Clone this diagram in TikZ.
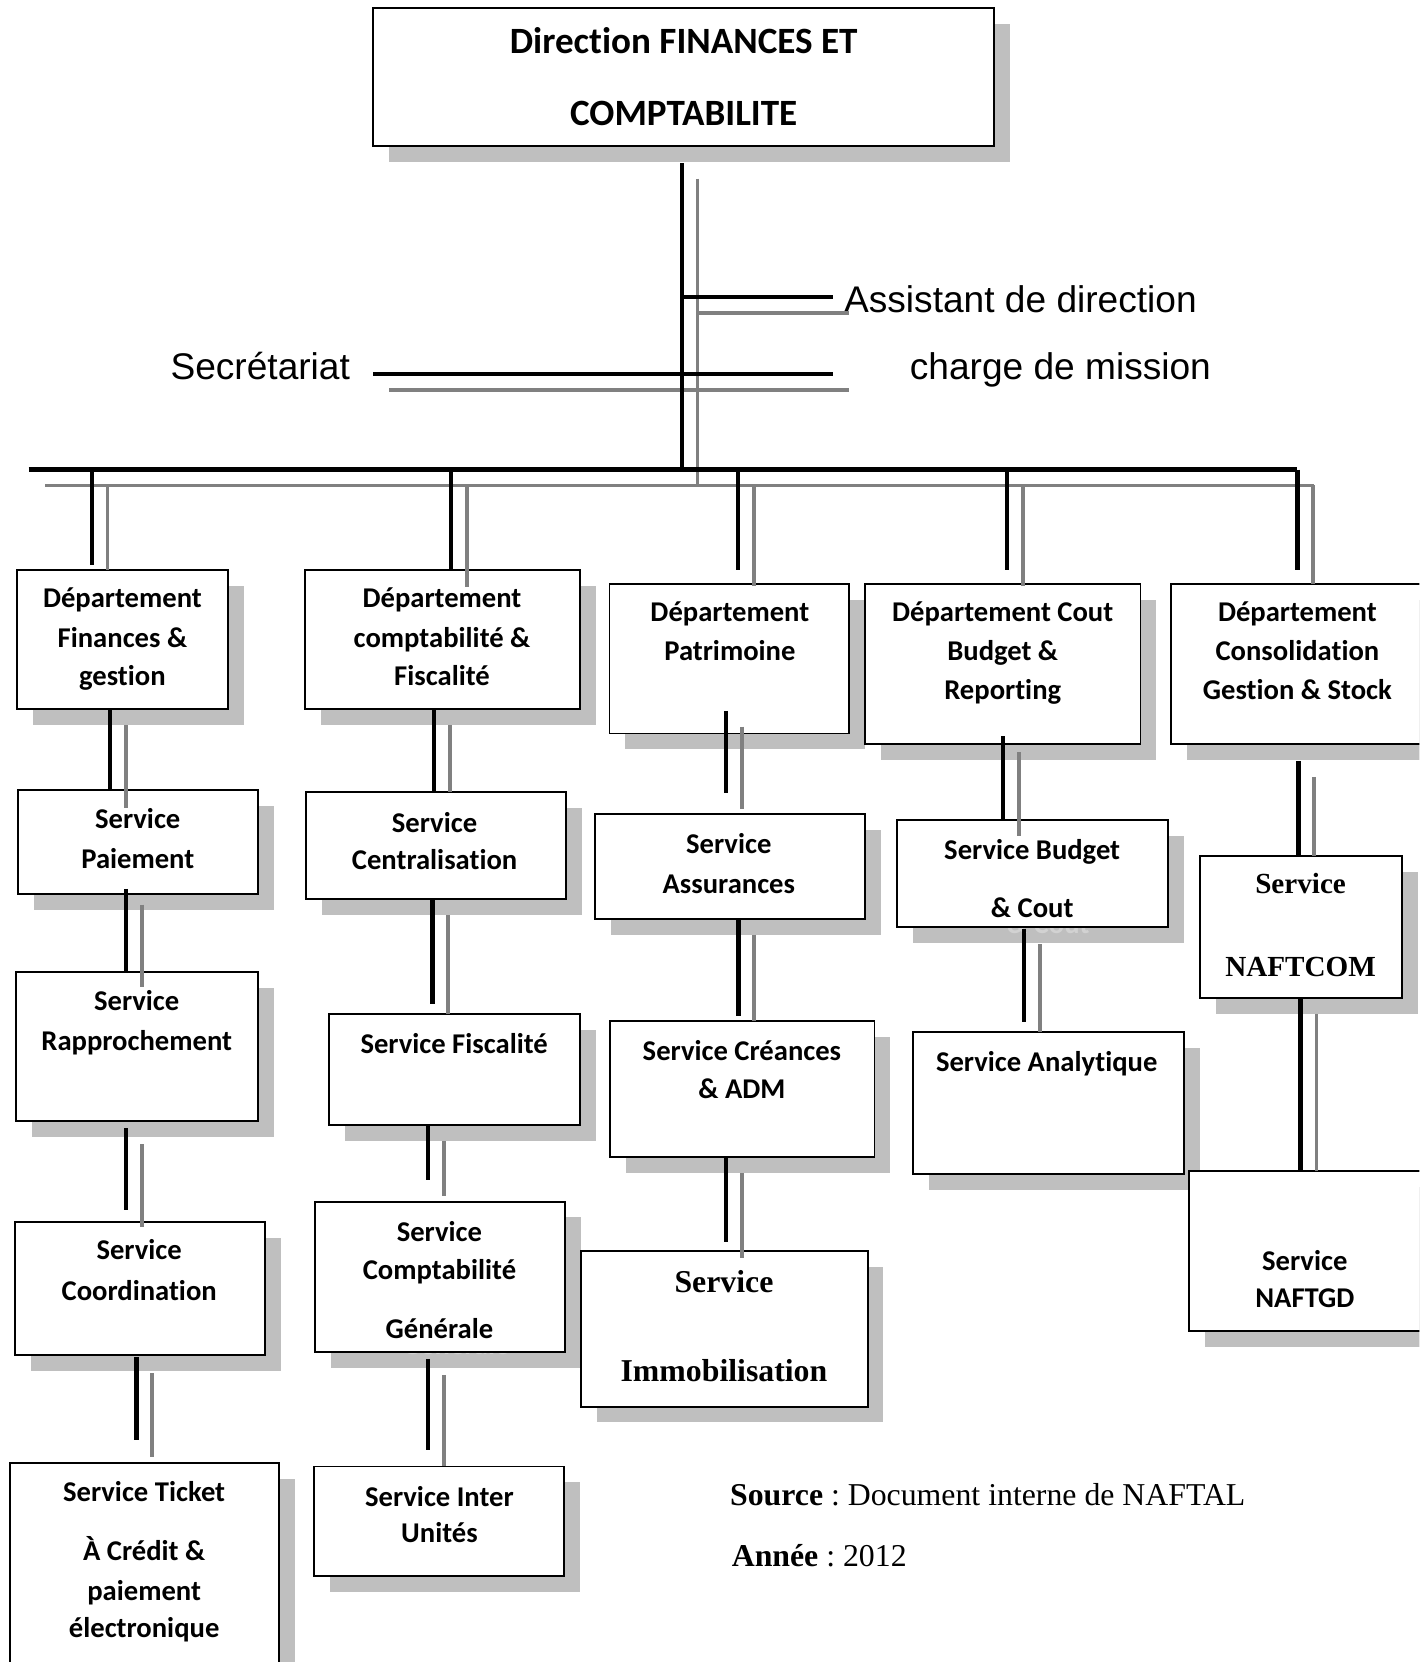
\documentclass[tikz,border=0pt]{standalone}
\usepackage{fontspec}
\setmainfont{Carlito}[Ligatures=NoCommon]
\newfontfamily\arifont{Liberation Sans}
\newfontfamily\timfont{Liberation Serif}
\usetikzlibrary{fit}
\frenchspacing
\tikzset{
  box/.style={draw=black, line width=0.9pt, fill=white, inner sep=0pt},
  shd/.style={fill=gray!50},
  blk/.style={line width=2pt, draw=black},
  gry/.style={line width=1.8pt, draw=gray},
  ct/.style={font=\fontsize{13.5}{16}\selectfont\bfseries, anchor=base, inner sep=0pt},
  ttl/.style={font=\fontsize{17.5}{20}\selectfont\bfseries, anchor=base, inner sep=0pt},
  ar/.style={font=\arifont\fontsize{17.5}{20}\selectfont, anchor=base west, inner sep=0pt},
  tb/.style={font=\timfont\bfseries\fontsize{15}{18}\selectfont, anchor=base, inner sep=0pt},
  tbs/.style={font=\timfont\bfseries\fontsize{13.75}{16}\selectfont, anchor=base, inner sep=0pt},
  tr/.style={font=\timfont\fontsize{15}{18}\selectfont, anchor=base west, inner sep=0pt},
  ghost/.style={font=\fontsize{13.5}{16}\selectfont\bfseries, anchor=base, inner sep=0pt, text=gray!35},
}
\newcommand\shdw[4]{\fill[shd] ({#1+15},{#2+15}) rectangle ({#3+15},{#4+15});}
\newcommand\bx[5]{\shdw{#2}{#3}{#4}{#5}\node[box, fit={(#2,#3) (#4,#5)}] (#1) {};}
\begin{document}
\begin{tikzpicture}[x=0.5pt, y=-0.5pt]
\useasboundingbox (0,0) rectangle (1339,1568);
\clip (0,0) rectangle (1339,1568);
% boxes
\bx{top}{352}{7.4}{938}{138}
\bx{d1}{16}{538}{215}{669}
\bx{d2}{288}{538}{547}{669}
\bx{d3}{575}{551}{801}{692}
\bx{d4}{816}{551}{1076}{701.6}
\bx{d5}{1105}{551}{1380}{701.6}
\bx{sp}{17}{745.6}{243.6}{843.6}
\bx{sc}{289}{747.5}{533.8}{848.3}
\bx{sa}{561}{768}{815.8}{866.7}
% budget box with ghost text
\shdw{846.4}{773.8}{1101.6}{874.5}
\node[ghost] (gcout) at (989,881) {\& Cout};
\node[box, fit={(846.4,773.8) (1101.6,874.5)}] (sb) {};
\bx{sn}{1132}{807.8}{1323}{941.8}
\bx{sr}{15}{917}{243.6}{1057.6}
\bx{sf}{310.7}{957}{547}{1061.6}
\bx{scr}{575.3}{963.6}{825}{1091.8}
\bx{san}{861.3}{973.8}{1116.7}{1107.3}
\bx{sg}{1122}{1104.5}{1380}{1255.4}
\bx{sco}{14.3}{1153}{250}{1278.6}
% comptabilite box with ghost text
\shdw{297}{1133.6}{533.2}{1275.7}
\node[ghost] (ggen) at (430,1278) {Générale};
\node[box, fit={(297,1133.6) (533.2,1275.7)}] (scg) {};
\bx{si}{548}{1180.4}{818.5}{1327}
\bx{st}{9.5}{1380}{263.2}{1620}
\bx{su}{296.5}{1383.5}{532}{1487}
% texts
\node[ttl] (t1) at (645,50.6) {Direction FINANCES ET};
\node[ttl] (t2) at (645,118) {COMPTABILITE};
\node[ar] (asst) at (796,295) {Assistant de direction};
\node[ar] (secr) at (160.5,358.5) {Secrétariat};
\node[ar] (chm) at (858,358.5) {charge de mission};
\node[ct] (d1a) at (115.5,573.6) {Département};
\node[ct] (d1b) at (115.5,610.5) {Finances \&};
\node[ct] (d1c) at (115.5,647) {gestion};
\node[ct] (d2a) at (417,573.6) {Département};
\node[ct] (d2b) at (417,610.5) {comptabilité \&};
\node[ct] (d2c) at (417,647) {Fiscalité};
\node[ct] (d3a) at (688.6,586.4) {Département};
\node[ct] (d3b) at (688.6,623.4) {Patrimoine};
\node[ct] (d4a) at (946,586.4) {Département Cout};
\node[ct] (d4b) at (946,623.4) {Budget \&};
\node[ct] (d4c) at (946,660.2) {Reporting};
\node[ct] (d5a) at (1224,586.4) {Département};
\node[ct] (d5b) at (1224,623.4) {Consolidation};
\node[ct] (d5c) at (1224,660.2) {Gestion \& Stock};
\node[ct] (spa) at (130,781.8) {Service};
\node[ct] (spb) at (130,819) {Paiement};
\node[ct] (sca) at (410,785) {Service};
\node[ct] (scb) at (410,820.6) {Centralisation};
\node[ct] (saa) at (687.6,805.4) {Service};
\node[ct] (sab) at (687.6,842.6) {Assurances};
\node[ct] (sba) at (973.8,810.5) {Service Budget};
\node[ct] (sbb) at (973.8,865.5) {\& Cout};
\node[tbs] (sna) at (1227,842.6) {Service};
\node[tbs] (snb) at (1227,921.7) {NAFTCOM};
\node[ct] (sra) at (129,953.6) {Service};
\node[ct] (srb) at (129,990.7) {Rapprochement};
\node[ct] (sfa) at (428.5,994) {Service Fiscalité};
\node[ct] (scra) at (700,1000.8) {Service Créances};
\node[ct] (scrb) at (700,1036) {\& ADM};
\node[ct] (sana) at (987.5,1011) {Service Analytique};
\node[ct] (sga) at (1231,1198.5) {Service};
\node[ct] (sgb) at (1231,1234) {NAFTGD};
\node[ct] (scoa) at (131.3,1188.4) {Service};
\node[ct] (scob) at (131.3,1226.6) {Coordination};
\node[ct] (scga) at (414.6,1171) {Service};
\node[ct] (scgb) at (414.6,1207) {Comptabilité};
\node[ct] (scgc) at (414.6,1263) {Générale};
\node[tb] (sia) at (683,1219) {Service};
\node[tb] (sib) at (683,1303.5) {Immobilisation};
\node[ct] (sta) at (136,1416.7) {Service Ticket};
\node[ct] (stb) at (136,1472.5) {À Crédit \&};
\node[ct] (stc) at (136,1510) {paiement};
\node[ct] (std) at (136,1545.2) {électronique};
\node[ct] (sua) at (414.6,1421) {Service Inter};
\node[ct] (sub) at (414.6,1455.7) {Unités};
\node[tr] (src) at (688.4,1420) {\textbf{Source} : Document interne de NAFTAL};
\node[tr] (yr) at (690,1477.6) {\textbf{Année} : 2012};
% gray shadow connectors
\draw[gry] (658,168.5) -- (658,458);
\draw[gry] (659,295) -- (801,295);
\draw[gry] (367,368) -- (801,368);
\draw[gry] (42.5,458) -- (1240,458);
\draw[gry] (101.5,458) -- (101.5,538);
\draw[gry] (440.5,458) -- (440.5,553.5);
\draw[gry] (711,458) -- (711,552.5);
\draw[gry] (965,458) -- (965,552.5);
\draw[gry] (1239,458) -- (1239,551);
\draw[gry] (118.5,684) -- (118.5,762);
\draw[gry] (133.8,853.5) -- (133.8,931);
\draw[gry] (133.6,1079.3) -- (133.6,1158);
\draw[gry] (143.7,1295.5) -- (143.7,1374.5);
\draw[gry] (424.4,684) -- (424.4,747.5);
\draw[gry] (423,863.3) -- (423,957);
\draw[gry] (418.5,1076.6) -- (418.5,1128);
\draw[gry] (418.5,1297) -- (418.5,1383.5);
\draw[gry] (700,685.6) -- (700,763);
\draw[gry] (711.7,881.7) -- (711.7,963.6);
\draw[gry] (700,1106.8) -- (700,1186.5);
\draw[gry] (961,709.6) -- (961,788.4);
\draw[gry] (981.3,891) -- (981.3,973.8);
\draw[gry] (1240,733) -- (1240,807.8);
\draw[gry] (1242,956.8) -- (1242,1104.5);
% black connectors
\draw[blk] (643.5,154) -- (643.5,443);
\draw[blk] (644,280) -- (786,280);
\draw[blk] (352,353) -- (786,353);
\draw[blk] (27,443) -- (1224,443);
\draw[blk] (86.5,443) -- (86.5,533);
\draw[blk] (425.5,443) -- (425.5,537.5);
\draw[blk] (696,443) -- (696,537.5);
\draw[blk] (950,443) -- (950,537.5);
\draw[blk] (1224,443) -- (1224,537.5);
\draw[blk] (d1.south -| 103.5,0) -- (sp.north -| 103.5,0);
\draw[blk] (118.8,838.5) -- (sr.north -| 118.8,0);
\draw[blk] (118.6,1064.3) -- (118.6,1141.8);
\draw[blk] (128.7,1280.5) -- (128.7,1358.5);
\draw[blk] (d2.south -| 409.4,0) -- (sc.north -| 409.4,0);
\draw[blk] (sc.south -| 408,0) -- (408,947);
\draw[blk] (sf.south -| 403.5,0) -- (403.5,1113);
\draw[blk] (403.5,1282) -- (403.5,1367.7);
\draw[blk] (685,670.6) -- (685,748);
\draw[blk] (sa.south -| 696.7,0) -- (696.7,958.7);
\draw[blk] (scr.south -| 685,0) -- (685,1171.5);
\draw[blk] (946,694.6) -- (sb.north -| 946,0);
\draw[blk] (966.3,876) -- (966.3,964.5);
\draw[blk] (1225,718) -- (sn.north -| 1225,0);
\draw[blk] (sn.south -| 1227,0) -- (sg.north -| 1227,0);
\end{tikzpicture}
\end{document}
